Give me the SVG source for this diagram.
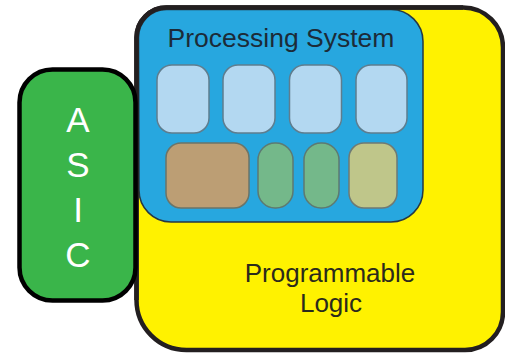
<svg xmlns="http://www.w3.org/2000/svg" width="505" height="354" viewBox="0 0 505 354">
<style>
  .lbl { font-family: "Liberation Sans", Arial, sans-serif; }
  .core { fill: #b3d8f1; stroke: #5f7d8e; stroke-width: 1.5; }
  .asic-t { font-family: "Liberation Sans", Arial, sans-serif; font-size: 35px; fill: #ffffff; text-anchor: middle; }
</style>
<rect width="505" height="354" fill="#ffffff"/>
<g id="programmable-logic">
  <path d="M166.5,7.5 H463 A40,40 0 0 1 503,47.5 V312 A38,38 0 0 1 465,350 H186.5 A50,50 0 0 1 136.5,300 V37.5 A30,30 0 0 1 166.5,7.5 Z" fill="#fff200" stroke="#231f20" stroke-width="4.5"/>
  <text class="lbl" x="330" y="281.5" font-size="26" fill="#2b2a1c" text-anchor="middle">Programmable</text>
  <text class="lbl" x="331" y="311.5" font-size="26" fill="#2b2a1c" text-anchor="middle">Logic</text>
</g>
<g id="processing-system">
  <path d="M138.5,37.5 A28,28 0 0 1 166.5,9.5 H391 A32,32 0 0 1 423,41.5 V190 A32,32 0 0 1 391,222 H171 A32,32 0 0 1 139,190 Z" fill="#27a7df" stroke="#263844" stroke-width="1.5"/>
  <path d="M166.5,7.5 H463 M136.5,37.5 A30,30 0 0 1 166.5,7.5 M136.5,37.5 V300" fill="none" stroke="#231f20" stroke-width="4.5"/>
  <text class="lbl" x="281" y="47.3" font-size="26.5" fill="#1c2b38" text-anchor="middle">Processing System</text>
</g>
<g id="core-1"><rect class="core" x="157" y="65" width="52" height="68" rx="15"/></g>
<g id="core-2"><rect class="core" x="223" y="65" width="52" height="68" rx="15"/></g>
<g id="core-3"><rect class="core" x="289.5" y="65" width="52" height="68" rx="15"/></g>
<g id="core-4"><rect class="core" x="356" y="65" width="51" height="68" rx="15"/></g>
<g id="block-brown"><rect x="166" y="143" width="83" height="65" rx="15" fill="#bc9e74" stroke="#6b7468" stroke-width="1.5"/></g>
<g id="block-green-1"><rect x="258" y="143" width="35" height="65" rx="17" fill="#74b88a" stroke="#5d7a72" stroke-width="1.5"/></g>
<g id="block-green-2"><rect x="304" y="143" width="35" height="65" rx="17" fill="#74b88a" stroke="#5d7a72" stroke-width="1.5"/></g>
<g id="block-olive"><rect x="349" y="143" width="48" height="65" rx="15" fill="#bfc68a" stroke="#6f7a74" stroke-width="1.5"/></g>
<g id="asic">
  <rect x="19.5" y="69.5" width="116" height="231" rx="33" fill="#3ab54a" stroke="#000000" stroke-width="4.5"/>
  <text class="asic-t" x="78" y="132">A</text>
  <text class="asic-t" x="78" y="177">S</text>
  <text class="asic-t" x="78" y="222">I</text>
  <text class="asic-t" x="78" y="267">C</text>
</g>
<g id="connectors"></g>
</svg>
